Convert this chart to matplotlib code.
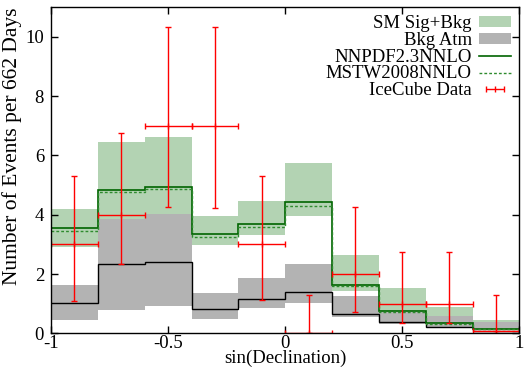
import numpy as np
import matplotlib
matplotlib.use("Agg")
import matplotlib.pyplot as plt

# бины по sin(Declination)
edges = np.linspace(-1, 1, 11)
centers = 0.5 * (edges[:-1] + edges[1:])

# полоса SM Sig+Bkg (зелёная)
sig_hi = [4.18, 6.45, 6.62, 3.96, 4.46, 5.76, 2.64, 1.54, 0.90, 0.45]
sig_lo = [2.92, 3.80, 3.95, 2.98, 3.32, 3.97, 1.44, 0.65, 0.55, 0.35]
# полоса Bkg Atm (серая)
bkg_hi = [1.63, 3.85, 4.02, 1.35, 1.86, 2.34, 1.27, 0.73, 0.59, 0.39]
bkg_lo = [0.45, 0.79, 0.93, 0.49, 0.85, 1.04, 0.57, 0.32, 0.21, 0.12]
bkg_mid = [1.02, 2.33, 2.41, 0.81, 1.15, 1.39, 0.67, 0.38, 0.23, 0.10]
# предсказания
nnpdf = [3.54, 4.83, 4.93, 3.34, 3.68, 4.42, 1.63, 0.76, 0.34, 0.15]
mstw = [3.45, 4.78, 4.87, 3.26, 3.60, 4.29, 1.60, 0.74, 0.33, 0.14]
# данные IceCube
data = [3.0, 4.0, 7.0, 7.0, 3.0, 0.0, 2.0, 1.0, 1.0, 0.1]
data_up = [5.31, 6.77, 10.31, 10.31, 5.31, 1.30, 4.25, 2.74, 2.74, 1.30]
data_dn = [1.10, 2.33, 4.25, 4.24, 1.13, 0.0, 0.73, 0.36, 0.36, 0.0]

plt.rcParams['font.family'] = ['Liberation Serif', 'DejaVu Serif']
plt.rcParams['font.size'] = 13.5

fig = plt.figure(figsize=(5.24, 3.67), dpi=100)
ax = fig.add_axes([0.0973, 0.0913, 0.894, 0.8897])

ax.stairs(sig_hi, edges, baseline=sig_lo, fill=True, color='#b3d3b3', lw=0,
          label='SM Sig+Bkg')
ax.stairs(bkg_hi, edges, baseline=bkg_lo, fill=True, color='#b3b3b3', lw=0,
          label='Bkg Atm')
ax.stairs(bkg_mid, edges, baseline=None, color='black', lw=1.0)
ax.stairs(nnpdf, edges, baseline=None, color='#006400', lw=1.2,
          label='NNPDF2.3NNLO')
ax.stairs(mstw, edges, baseline=None, color='#2e8b2e', lw=1.0, ls=(0, (2, 1.5)),
          label='MSTW2008NNLO')

d = np.array(data)
yerr = [d - np.array(data_dn), np.array(data_up) - d]
ax.errorbar(centers, d, xerr=0.1, yerr=yerr, fmt='|', color='red', ms=4,
            elinewidth=1.0, capsize=2.5, capthick=1.0)
# фиктивный хэндл для легенды: только горизонтальная ошибка
ax.errorbar([5], [5], xerr=0.1, fmt='|', color='red', ms=4,
            elinewidth=1.0, capsize=2.5, capthick=1.0, label='IceCube Data')

ax.set_xlim(-1, 1)
ax.set_ylim(0, 11)
ax.set_xticks([-1, -0.5, 0, 0.5, 1])
ax.set_xticklabels(['-1', '-0.5', '0', '0.5', '1'])
ax.set_yticks([0, 2, 4, 6, 8, 10])
ax.tick_params(direction='in', top=True, right=True, length=5, width=1)
ax.tick_params(axis='x', pad=1)
ax.tick_params(axis='y', pad=5)
for s in ax.spines.values():
    s.set_linewidth(1.0)
ax.set_xlabel('sin(Declination)', labelpad=-1.5)
ax.set_ylabel('Number of Events per 662 Days', fontsize=15.5)
ax.yaxis.set_label_coords(-0.062, 0.572)

ax.legend(loc='upper right', frameon=False, markerfirst=False,
          handlelength=1.7, handleheight=0.5, labelspacing=-0.02,
          borderaxespad=0.05, handletextpad=0.4)

fig.savefig('out.png', dpi=100)
